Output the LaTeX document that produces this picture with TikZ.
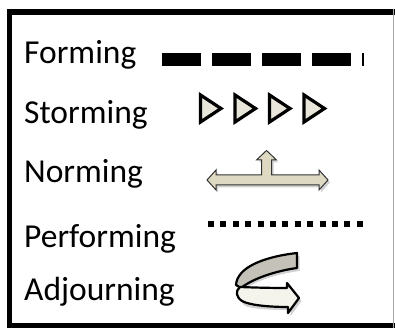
\documentclass[tikz,border=0pt]{standalone}
\usepackage{fontspec}
\newfontfamily\labelfont{Carlito}
\definecolor{triFill}{HTML}{E8E6DA}
\definecolor{tanFill}{HTML}{DDD9C3}
\definecolor{ribGray}{HTML}{C4C1B8}
\definecolor{ribCream}{HTML}{F5F4EC}
\begin{document}
\begin{tikzpicture}[x=1pt,y=-1pt,
  lbl/.style={anchor=base west, inner sep=0pt, font=\labelfont\fontsize{33.5}{40}\selectfont},
  tri/.style={draw=black, fill=triFill, line width=3.2pt, line join=miter},
  shade/.style={fill=black, opacity=0.18},
  rib/.style={draw=black, line width=2.2pt, line join=round}]
\useasboundingbox (0,0) rectangle (395,328);
% frame
\fill[black] (7.3,9.3) rectangle (395,15.5);
\fill[black] (7.3,9.3) rectangle (11.8,328);
\fill[black] (7.3,322.8) rectangle (395,328);
\fill[gray!70] (393.3,9.3) rectangle (394.3,328);
% labels
\node[lbl] (lF) at (24,64) {Forming};
\node[lbl] (lS) at (24,124) {Storming};
\node[lbl] (lN) at (24,183) {Norming};
\node[lbl] (lP) at (24,247) {Performing};
\node[lbl] (lA) at (24,300) {Adjourning};
% Forming: dashed
\draw[line width=13pt, dash pattern=on 39pt off 11pt] (162,59.5) -- (363.5,59.5);
% Storming: triangles
\foreach \x in {200.5,235,269.5,304}{
  \draw[tri] (\x,95) -- (\x+20.5,108.5) -- (\x,122) -- cycle;
}
% Norming: T arrow
\begin{scope}[shift={(2,2.5)}]
\fill[shade] (207,180) -- (216,170) -- (216,175) -- (261.5,175) -- (261.5,160) -- (256.5,160) -- (266.5,150.5) -- (276.5,160) -- (271.5,160) -- (271.5,175) -- (319,175) -- (319,170) -- (328,180) -- (319,190) -- (319,185) -- (216,185) -- (216,190) -- cycle;
\end{scope}
\draw[fill=tanFill, draw=black!80, line width=1pt, line join=miter]
  (207,180) -- (216,170) -- (216,175) -- (261.5,175) -- (261.5,160) -- (256.5,160) -- (266.5,150.5) -- (276.5,160) -- (271.5,160) -- (271.5,175) -- (319,175) -- (319,170) -- (328,180) -- (319,190) -- (319,185) -- (216,185) -- (216,190) -- cycle;
% Performing: dotted
\draw[line width=6pt, dash pattern=on 6pt off 6.4pt] (208,223.5) -- (364,223.5);
% Adjourning: curved ribbon arrow
\begin{scope}[shift={(2.5,3)}]
\fill[shade] (297,253) .. controls (262,257) and (237,268) .. (236,285)
  .. controls (235,294) and (238,301) .. (245,304) .. controls (260,307) and (275,307) .. (288,307)
  -- (288,313) -- (299,298) -- (287,283) -- (287,288) .. controls (275,287) and (255,284) .. (243,286)
  .. controls (255,277) and (275,271) .. (297,268) -- cycle;
\end{scope}
\draw[rib, fill=ribGray] (297,253) .. controls (262,257) and (237,268) .. (236,285)
  -- (241,288) .. controls (252,279) and (275,271) .. (297,268) -- cycle;
\draw[rib, fill=ribCream] (240,287) .. controls (252,287.5) and (270,288) .. (287,288)
  -- (287,283) -- (299,298) -- (288,313) -- (288,307)
  .. controls (268,307) and (249,305) .. (242,301)
  .. controls (236,297) and (235,291) .. (240,287) -- cycle;
\end{tikzpicture}
\end{document}
